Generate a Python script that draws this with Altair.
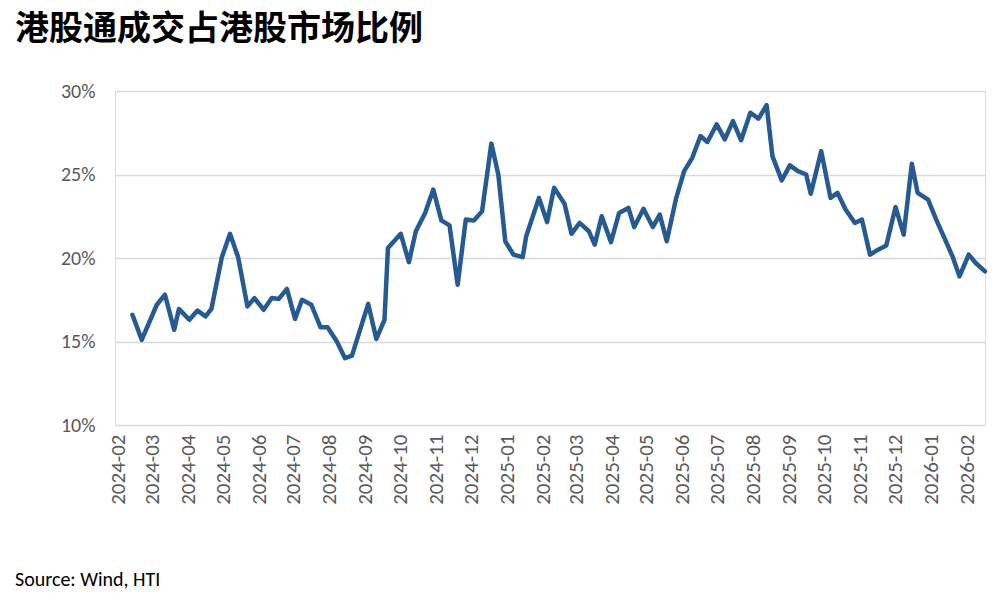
import altair as alt
import pandas as pd

title_text = "港股通成交占港股市场比例"
source_text = "Source: Wind, HTI"

dates = [
    "2024-02-13", "2024-02-21", "2024-03-05", "2024-03-12", "2024-03-20", "2024-03-24", "2024-04-02", "2024-04-09", "2024-04-16", "2024-04-21",
    "2024-04-30", "2024-05-07", "2024-05-14", "2024-05-22", "2024-05-28", "2024-06-05", "2024-06-12", "2024-06-18", "2024-06-25", "2024-07-02",
    "2024-07-08", "2024-07-16", "2024-07-24", "2024-07-30", "2024-08-07", "2024-08-14", "2024-08-20", "2024-09-03", "2024-09-10", "2024-09-17",
    "2024-09-20", "2024-10-01", "2024-10-08", "2024-10-14", "2024-10-22", "2024-10-29", "2024-11-05", "2024-11-12", "2024-11-19", "2024-11-26",
    "2024-12-03", "2024-12-10", "2024-12-18", "2024-12-24", "2024-12-30", "2025-01-06", "2025-01-14", "2025-01-17", "2025-01-28", "2025-02-04",
    "2025-02-10", "2025-02-19", "2025-02-25", "2025-03-04", "2025-03-12", "2025-03-17", "2025-03-23", "2025-03-31", "2025-04-07", "2025-04-15",
    "2025-04-20", "2025-04-28", "2025-05-06", "2025-05-12", "2025-05-18", "2025-05-26", "2025-06-02", "2025-06-09", "2025-06-16", "2025-06-22",
    "2025-06-30", "2025-07-07", "2025-07-14", "2025-07-21", "2025-07-29", "2025-08-05", "2025-08-12", "2025-08-17", "2025-08-25", "2025-09-01",
    "2025-09-08", "2025-09-15", "2025-09-19", "2025-09-28", "2025-10-06", "2025-10-12", "2025-10-19", "2025-10-27", "2025-11-02", "2025-11-09",
    "2025-11-16", "2025-11-23", "2025-12-01", "2025-12-08", "2025-12-15", "2025-12-20", "2025-12-29", "2026-01-05", "2026-01-12", "2026-01-19",
    "2026-01-25", "2026-02-02", "2026-02-08", "2026-02-16",
]

share = [
    16.6, 15.1, 17.2, 17.8, 15.7, 16.95, 16.3, 16.85, 16.5, 16.95,
    20.05, 21.45, 20.05, 17.1, 17.6, 16.9, 17.6, 17.55, 18.15, 16.35,
    17.5, 17.2, 15.85, 15.85, 15.0, 14.0, 14.15, 17.25, 15.15, 16.3,
    20.6, 21.45, 19.75, 21.6, 22.7, 24.1, 22.25, 21.95, 18.4, 22.3,
    22.25, 22.8, 26.85, 25.0, 21.0, 20.2, 20.05, 21.3, 23.6, 22.15,
    24.2, 23.25, 21.45, 22.1, 21.6, 20.8, 22.5, 20.95, 22.7, 23.0,
    21.85, 22.95, 21.85, 22.6, 21.0, 23.55, 25.2, 26.0, 27.3, 26.95,
    28.0, 27.1, 28.2, 27.05, 28.7, 28.35, 29.15, 26.1, 24.65, 25.55,
    25.2, 25.0, 23.85, 26.4, 23.6, 23.9, 22.9, 22.1, 22.3, 20.2,
    20.5, 20.75, 23.05, 21.4, 25.65, 23.9, 23.5, 22.3, 21.2, 20.1,
    18.9, 20.2, 19.7, 19.2,
]

month_labels = [
    "2024-02", "2024-03", "2024-04", "2024-05", "2024-06", "2024-07", "2024-08", "2024-09",
    "2024-10", "2024-11", "2024-12", "2025-01", "2025-02", "2025-03", "2025-04", "2025-05",
    "2025-06", "2025-07", "2025-08", "2025-09", "2025-10", "2025-11", "2025-12", "2026-01", "2026-02",
]
y_ticks = [10, 15, 20, 25, 30]

df = pd.DataFrame({"date": dates, "share": share})

tick_values = [alt.DateTime(year=int(m[:4]), month=int(m[5:]), date=1, utc=True) for m in month_labels]

label_font = "Carlito, Calibri, Liberation Sans Narrow, Liberation Sans, sans-serif"

line = alt.Chart(df).mark_line(
    color="#255B92", strokeWidth=4.5, strokeJoin="round", strokeCap="round"
).encode(
    x=alt.X(
        "date:T",
        scale=alt.Scale(
            type="utc",
            domain=[
                alt.DateTime(year=2024, month=1, date=29, utc=True),
                alt.DateTime(year=2026, month=2, date=16, utc=True),
            ],
        ),
        axis=alt.Axis(
            values=tick_values,
            labelExpr="utcFormat(datum.value, '%Y-%m')",
            labelAngle=270,
            labelPadding=9,
            labelFontSize=21,
            labelColor="#595959",
            labelFont=label_font,
            labelOverlap=False,
            labelFlush=False,
            grid=False,
            domain=False,
            ticks=False,
            title=None,
        ),
    ),
    y=alt.Y(
        "share:Q",
        scale=alt.Scale(domain=[10, 30], nice=False, zero=False),
        axis=alt.Axis(
            values=y_ticks,
            labelExpr="datum.value + '%'",
            grid=True,
            gridColor="#d9d9d9",
            gridWidth=1.5,
            domain=False,
            ticks=False,
            labelPadding=20,
            labelFontSize=20,
            labelColor="#595959",
            labelFont=label_font,
            title=None,
        ),
    ),
)

title_mark = alt.Chart(pd.DataFrame({"t": [title_text]})).mark_text(
    align="left", baseline="middle", fontSize=34, fontWeight="bold",
    font="Noto Sans CJK SC", color="#000000"
).encode(text="t:N", x=alt.value(-100), y=alt.value(-61))

source_mark = alt.Chart(pd.DataFrame({"t": [source_text]})).mark_text(
    align="left", baseline="middle", fontSize=20, font=label_font, color="#000000"
).encode(text="t:N", x=alt.value(-100), y=alt.value(489))

chart = alt.layer(line, title_mark, source_mark).properties(
    width=870,
    height=334,
    autosize=alt.AutoSizeParams(type="none"),
    padding={"left": 107, "top": 83, "right": 6, "bottom": 176},
).configure_view(stroke=None).configure(background="white")

chart.save("out.html", embed_options={"renderer": "svg", "actions": False})
